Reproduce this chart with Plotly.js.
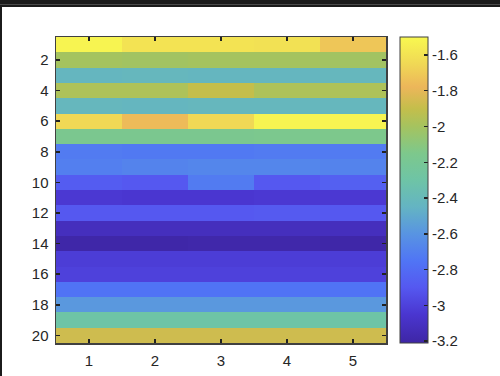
<!DOCTYPE html>
<html>
<head>
<meta charset="utf-8">
<script src="https://cdn.plot.ly/plotly-3.0.1.min.js"></script>
<style>
html,body{margin:0;padding:0;background:#fff;overflow:hidden;}
#plot{position:absolute;left:0;top:0;width:500px;height:376px;}
#topband{position:absolute;left:0;top:0;width:500px;height:7px;background:#1b1b1b;z-index:5;}
#topline{position:absolute;left:0;top:4px;width:500px;height:1px;background:#4a4a4a;z-index:6;}
#leftband{position:absolute;left:0;top:0;width:2px;height:376px;background:#1b1b1b;z-index:5;}
</style>
</head>
<body>
<div id="plot"></div>
<div id="topband"></div>
<div id="topline"></div>
<div id="leftband"></div>
<script>
// columns and rows
const cols = [1, 2, 3, 4, 5];
const rows = [1,2,3,4,5,6,7,8,9,10,11,12,13,14,15,16,17,18,19,20];

// values, one array per row (row 1 at top)
const r1  = [-1.52, -1.60, -1.60, -1.61, -1.72];
const r2  = [-2.00, -2.01, -2.00, -2.00, -2.01];
const r3  = [-2.43, -2.42, -2.43, -2.43, -2.42];
const r4  = [-1.97, -1.97, -1.90, -1.97, -1.97];
const r5  = [-2.42, -2.43, -2.42, -2.42, -2.42];
const r6  = [-1.65, -1.76, -1.65, -1.52, -1.52];
const r7  = [-2.17, -2.17, -2.17, -2.16, -2.15];
const r8  = [-2.72, -2.73, -2.73, -2.72, -2.72];
const r9  = [-2.70, -2.68, -2.67, -2.67, -2.68];
const r10 = [-2.88, -2.90, -2.72, -2.90, -2.86];
const r11 = [-3.04, -3.05, -3.05, -3.04, -3.04];
const r12 = [-2.90, -2.90, -2.90, -2.89, -2.90];
const r13 = [-3.12, -3.12, -3.12, -3.12, -3.12];
const r14 = [-3.20, -3.20, -3.19, -3.19, -3.20];
const r15 = [-3.02, -3.02, -3.02, -3.02, -3.02];
const r16 = [-3.00, -3.00, -3.00, -3.00, -3.00];
const r17 = [-2.76, -2.76, -2.76, -2.76, -2.76];
const r18 = [-2.58, -2.58, -2.58, -2.58, -2.58];
const r19 = [-2.30, -2.30, -2.30, -2.30, -2.30];
const r20 = [-1.87, -1.87, -1.87, -1.87, -1.87];

const yTicks = [2,4,6,8,10,12,14,16,18,20];
const xTicks = [1,2,3,4,5];
const cbTicks = [-1.6,-1.8,-2,-2.2,-2.4,-2.6,-2.8,-3,-3.2];

const zmin = -3.21, zmax = -1.50;

// colormap stops (value, colour)
const cmapVals = [-3.21, -3.05, -2.90, -2.75, -2.60, -2.45, -2.30, -2.15, -2.00, -1.90, -1.78, -1.65, -1.50];
const cmapCols = ['rgb(62,38,165)','rgb(74,54,208)','rgb(85,88,240)','rgb(80,117,245)','rgb(88,148,226)',
  'rgb(100,180,195)','rgb(110,196,166)','rgb(125,200,140)','rgb(165,195,95)','rgb(196,190,75)',
  'rgb(236,182,90)','rgb(240,216,85)','rgb(248,248,80)'];
const colorscale = cmapVals.map((v,i)=>[(v-zmin)/(zmax-zmin), cmapCols[i]]);
colorscale[0][0]=0; colorscale[colorscale.length-1][0]=1;

const z = [r1,r2,r3,r4,r5,r6,r7,r8,r9,r10,r11,r12,r13,r14,r15,r16,r17,r18,r19,r20];

const axCol = '#404040';
const txt = '#262626';
const fam = 'Liberation Sans, Arial, sans-serif';

const trace = {
  type: 'heatmap',
  x: cols, y: rows, z: z,
  zmin: zmin, zmax: zmax,
  colorscale: colorscale,
  hoverinfo: 'skip',
  colorbar: {
    thickness: 28, thicknessmode: 'pixels',
    len: 1, lenmode: 'fraction',
    x: 1.0424, xanchor: 'left', xpad: 0,
    y: 1, yanchor: 'top', ypad: 0,
    outlinewidth: 1, outlinecolor: axCol,
    tickvals: cbTicks, ticktext: cbTicks.map(String),
    ticks: 'inside', ticklen: 4, tickcolor: '#222', tickwidth: 1.5,
    tickfont: {family: fam, size: 15, color: txt},
    ticklabelposition: 'outside'
  }
};

const layout = {
  width: 500, height: 376,
  margin: {l: 56, r: 114, t: 37, b: 33},
  paper_bgcolor: '#fff', plot_bgcolor: '#fff',
  font: {family: fam, size: 15, color: txt},
  xaxis: {
    range: [0.5, 5.5], tickvals: xTicks, ticktext: xTicks.map(String),
    ticks: 'inside', ticklen: 4, tickwidth: 1.5, tickcolor: '#222',
    showline: true, linecolor: axCol, linewidth: 1.5, mirror: 'allticks',
    showgrid: false, zeroline: false, ticklabelstandoff: 3,
    tickfont: {family: fam, size: 15, color: txt}
  },
  yaxis: {
    range: [20.5, 0.5], tickvals: yTicks, ticktext: yTicks.map(String),
    ticks: 'inside', ticklen: 4, tickwidth: 1.5, tickcolor: '#222',
    showline: true, linecolor: axCol, linewidth: 1.5, mirror: 'allticks',
    showgrid: false, zeroline: false, ticklabelstandoff: 3,
    tickfont: {family: fam, size: 15, color: txt}
  },
  showlegend: false
};

Plotly.newPlot('plot', [trace], layout, {staticPlot: true, displayModeBar: false});
</script>
</body>
</html>
